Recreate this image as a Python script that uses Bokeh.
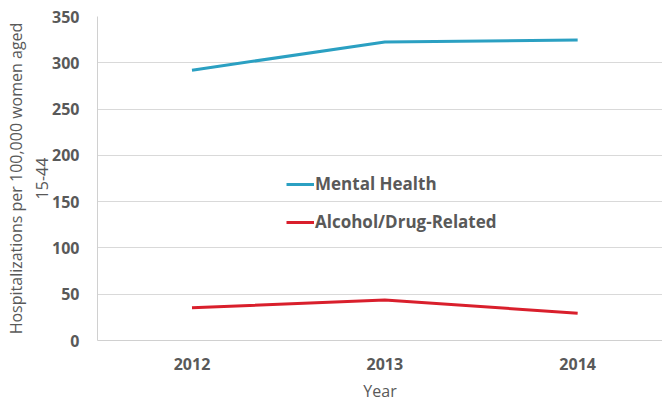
from bokeh.plotting import figure
from bokeh.embed import file_html
from bokeh.resources import INLINE
from bokeh.models import Range1d, FixedTicker, SingleIntervalTicker, Legend, LegendItem

years = [2012, 2013, 2014]
year_labels = ["2012", "2013", "2014"]
mental_health = [292.0, 322.5, 324.5]
alcohol_drug = [35.3, 43.8, 29.5]
series_names = ["Mental Health", "Alcohol/Drug-Related"]
series_colors = ["#2ba0c2", "#d91f2c"]

FONT = "Open Sans"
GREY = "#595959"

p = figure(frame_width=565, frame_height=324, output_backend="svg", toolbar_location=None,
           x_range=Range1d(2011.51, 2014.44), y_range=Range1d(0, 350),
           min_border_left=97, min_border_top=16, min_border_right=0, min_border_bottom=55)
p.outline_line_color = None
p.background_fill_color = "white"
p.border_fill_color = "white"

r1 = p.line(years, mental_health, line_color=series_colors[0], line_width=3)
r2 = p.line(years, alcohol_drug, line_color=series_colors[1], line_width=3)

p.xgrid.grid_line_color = None
p.ygrid.grid_line_color = "#d9d9d9"
p.ygrid.grid_line_width = 1

p.xaxis.ticker = FixedTicker(ticks=years)
p.xaxis.major_label_overrides = {y: l for y, l in zip(years, year_labels)}
p.yaxis.ticker = SingleIntervalTicker(interval=50)

for ax in (p.xaxis[0], p.yaxis[0]):
    ax.axis_line_color = "#d0d0d0"
    ax.major_tick_line_color = None
    ax.minor_tick_line_color = None
    ax.major_tick_out = 0
    ax.major_tick_in = 0
    ax.minor_tick_out = 0
    ax.minor_tick_in = 0
    ax.major_label_text_font = FONT
    ax.major_label_text_font_style = "bold"
    ax.major_label_text_font_size = "16px"
    ax.major_label_text_color = GREY
    ax.axis_label_text_font = FONT
    ax.axis_label_text_font_style = "normal"
    ax.axis_label_text_font_size = "16px"
    ax.axis_label_text_color = GREY

p.xaxis.axis_label = "Year"
p.xaxis.major_label_standoff = 17
p.xaxis.axis_label_standoff = 7
p.yaxis.axis_label = "Hospitalizations per 100,000 women aged\n15-44"
p.yaxis.major_label_standoff = 18
p.yaxis.axis_label_standoff = -4

legend = Legend(items=[LegendItem(label=series_names[0], renderers=[r1]),
                       LegendItem(label=series_names[1], renderers=[r2])],
                location=(189, 107), orientation="vertical")
legend.background_fill_alpha = 0
legend.border_line_color = None
legend.padding = 0
legend.margin = 0
legend.spacing = 15
legend.glyph_width = 28
legend.glyph_height = 20
legend.label_height = 20
legend.label_standoff = 1
legend.label_text_font = FONT
legend.label_text_font_style = "bold"
legend.label_text_font_size = "17px"
legend.label_text_color = GREY
p.add_layout(legend, "center")

open("out.html", "w").write(file_html(p, INLINE))
